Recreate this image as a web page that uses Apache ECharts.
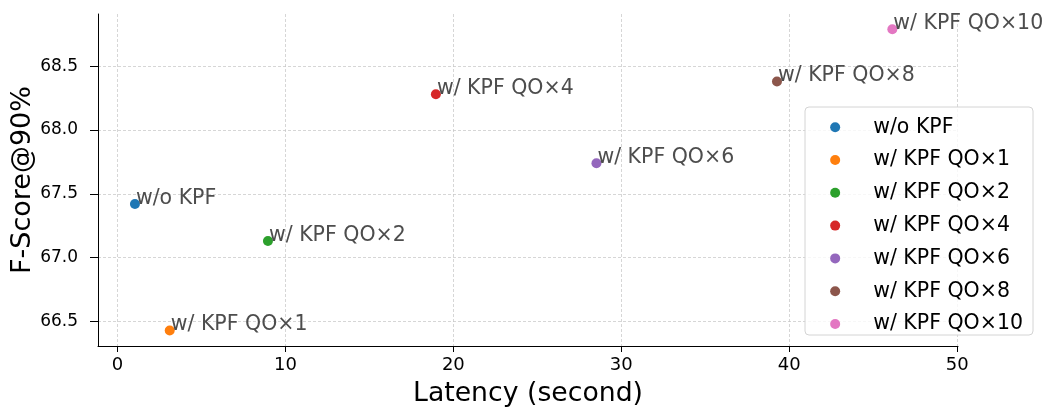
<!DOCTYPE html>
<html>
<head>
<meta charset="utf-8">
<script src="https://cdn.jsdelivr.net/npm/echarts@6/dist/echarts.min.js"></script>
<style>
  html, body { margin: 0; padding: 0; background: #fff; }
  #chart { width: 1050px; height: 409px; }
</style>
</head>
<body>
<div id="chart"></div>
<script>
// Latency vs. F-Score for each KPF query-order setting
const methods = ['w/o KPF', 'w/ KPF QO×1', 'w/ KPF QO×2', 'w/ KPF QO×4', 'w/ KPF QO×6', 'w/ KPF QO×8', 'w/ KPF QO×10'];
const latency = [1.04, 3.11, 8.96, 18.96, 28.52, 39.27, 46.14];
const fscore = [67.42, 66.43, 67.13, 68.28, 67.74, 68.38, 68.79];
const colors = ['#1f77b4', '#ff7f0e', '#2ca02c', '#d62728', '#9467bd', '#8c564b', '#e377c2'];
const xTicks = [0, 10, 20, 30, 40, 50];
const yTicks = [66.5, 67.0, 67.5, 68.0, 68.5];

const FONT = '"DejaVu Sans", sans-serif';
const gridLine = { show: true, lineStyle: { color: '#c4c4c4', width: 0.7, type: [3, 2] } };

const series = methods.map((name, i) => ({
  name: name,
  type: 'scatter',
  symbol: 'circle',
  symbolSize: 10,
  itemStyle: { color: colors[i], opacity: 1 },
  data: [[latency[i], fscore[i]]],
  label: {
    show: true,
    formatter: '{a}',
    position: 'inside',
    align: 'left',
    verticalAlign: 'bottom',
    offset: [1, 5],
    fontFamily: FONT,
    fontSize: 20.5,
    color: '#4d4d4d'
  },
  emphasis: { disabled: true },
  z: 2
}));

const chart = echarts.init(document.getElementById('chart'), null, { renderer: 'canvas' });
chart.setOption({
  animation: false,
  backgroundColor: '#fff',
  color: colors,
  grid: { left: 98, top: 14, right: 92, bottom: 63, outerBoundsMode: 'none', containLabel: false },
  xAxis: {
    type: 'value',
    min: -1.16,
    max: 50.05,
    name: 'Latency (second)',
    nameLocation: 'middle',
    nameGap: 35,
    nameMoveOverlap: false,
    nameTextStyle: { fontFamily: FONT, fontSize: 26.7, color: '#000' },
    axisLine: { show: true, onZero: false, lineStyle: { color: '#000', width: 1 } },
    axisTick: { show: true, customValues: xTicks, length: 6, lineStyle: { color: '#000', width: 1 } },
    axisLabel: { customValues: xTicks, fontFamily: FONT, fontSize: 18, color: '#000', margin: 10 },
    splitLine: gridLine
  },
  yAxis: {
    type: 'value',
    min: 66.308,
    max: 68.909,
    name: 'F-Score@90%',
    nameLocation: 'middle',
    nameGap: 62,
    nameMoveOverlap: false,
    nameTextStyle: { fontFamily: FONT, fontSize: 27, color: '#000' },
    axisLine: { show: true, onZero: false, lineStyle: { color: '#000', width: 1 } },
    axisTick: { show: true, customValues: yTicks, length: 8, lineStyle: { color: '#000', width: 1 } },
    axisLabel: {
      customValues: yTicks, fontFamily: FONT, fontSize: 17, color: '#000', margin: 20,
      formatter: v => v.toFixed(1)
    },
    splitLine: gridLine
  },
  legend: {
    orient: 'vertical',
    right: 27,
    top: 116.7,
    padding: 0,
    icon: 'circle',
    itemWidth: 66,
    itemHeight: 10,
    itemGap: 11.8,
    textStyle: { fontFamily: FONT, fontSize: 20.5, lineHeight: 20, color: '#000' },
    data: methods,
    z: 5
  },
  graphic: [{
    type: 'rect',
    z: 4,
    shape: { x: 805, y: 107, width: 228, height: 228, r: 4 },
    style: { fill: 'rgba(255,255,255,0.8)', stroke: '#d4d4d4', lineWidth: 1 }
  }],
  series: series
});
</script>
</body>
</html>
